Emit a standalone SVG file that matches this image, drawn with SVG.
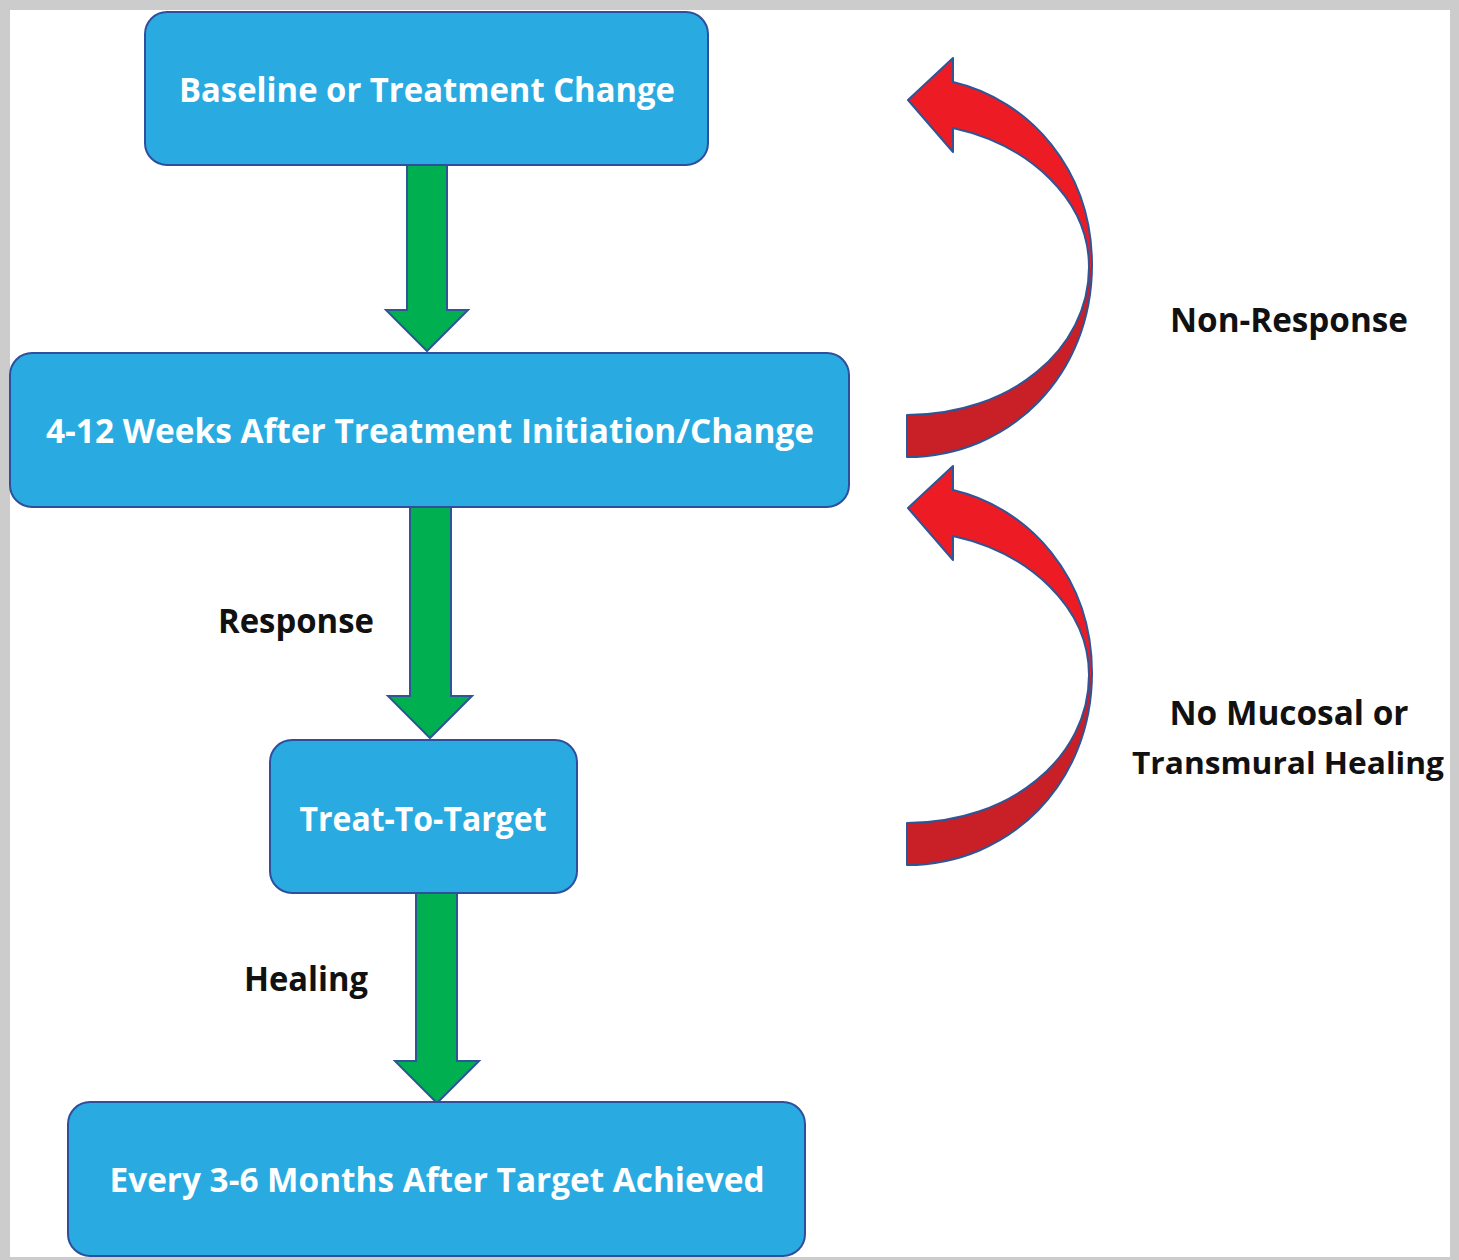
<svg xmlns="http://www.w3.org/2000/svg" width="1459" height="1260" viewBox="0 0 1459 1260">
<style>
.box{fill:#29abe2;stroke:#2f4f9c;stroke-width:2}
.wt{fill:#ffffff;font-family:"Open Sans","Liberation Sans",sans-serif;font-weight:bold;font-size:34px}
.bt{fill:#111111;font-family:"Open Sans","Liberation Sans",sans-serif;font-weight:bold;font-size:34px}
.garrow{fill:#00b050;stroke:#2f5597;stroke-width:2;stroke-linejoin:miter}
.rout{fill:none;stroke:#2f5597;stroke-width:2;stroke-linejoin:round}
</style>
<defs>
<g id="curved">
<path d="M908,100 L953,58 L953,82 C1030,100 1092,170 1092,265 L1089,267 C1089,200 1030,145 953,128 L953,152 Z" fill="#ed1c24"/>
<path d="M1092,265 C1092,375 1010,457 907,457 L907,415 C1010,415 1089,350 1089,267 Z" fill="#c91f27"/>
<path class="rout" d="M908,100 L953,58 L953,82 C1030,100 1092,170 1092,265 C1092,375 1010,457 907,457 L907,415 C1010,415 1089,350 1089,267 C1089,200 1030,145 953,128 L953,152 Z"/>
</g>
</defs>
<rect x="0" y="0" width="1459" height="1260" fill="#cccccc"/>
<rect x="10" y="10" width="1440" height="1247" fill="#ffffff"/>
<g id="connectors">
<path class="garrow" d="M407,165 L447,165 L447,310 L468,310 L427,351 L386,310 L407,310 Z"/>
<path class="garrow" d="M410,507 L451,507 L451,696 L472,696 L430,738 L388,696 L410,696 Z"/>
<path class="garrow" d="M416,893 L457,893 L457,1061 L479,1061 L437,1103 L395,1061 L416,1061 Z"/>
<use href="#curved"/>
<use href="#curved" transform="translate(0,408)"/>
<text class="bt" x="296" y="633" text-anchor="middle" textLength="156" lengthAdjust="spacingAndGlyphs">Response</text>
<text class="bt" x="306" y="991" text-anchor="middle" textLength="124" lengthAdjust="spacingAndGlyphs">Healing</text>
<text class="bt" x="1289" y="332" text-anchor="middle" textLength="238" lengthAdjust="spacingAndGlyphs">Non-Response</text>
<text class="bt" x="1289" y="725" text-anchor="middle" textLength="239" lengthAdjust="spacingAndGlyphs">No Mucosal or</text>
<text class="bt" x="1288" y="774" text-anchor="middle" style="font-size:31px" textLength="312" lengthAdjust="spacingAndGlyphs">Transmural Healing</text>
</g>
<g id="node-baseline">
<rect class="box" x="145" y="12" width="563" height="153" rx="22"/>
<text class="wt" x="427" y="102" text-anchor="middle" textLength="496" lengthAdjust="spacingAndGlyphs">Baseline or Treatment Change</text>
</g>
<g id="node-weeks">
<rect class="box" x="10" y="353" width="839" height="154" rx="22"/>
<text class="wt" x="430" y="443" text-anchor="middle" textLength="768" lengthAdjust="spacingAndGlyphs">4-12 Weeks After Treatment Initiation/Change</text>
</g>
<g id="node-target">
<rect class="box" x="270" y="740" width="307" height="153" rx="22"/>
<text class="wt" x="423" y="831" text-anchor="middle" textLength="247" lengthAdjust="spacingAndGlyphs">Treat-To-Target</text>
</g>
<g id="node-months">
<rect class="box" x="68" y="1102" width="737" height="154" rx="22"/>
<text class="wt" x="437" y="1192" text-anchor="middle" textLength="655" lengthAdjust="spacingAndGlyphs">Every 3-6 Months After Target Achieved</text>
</g>
</svg>
